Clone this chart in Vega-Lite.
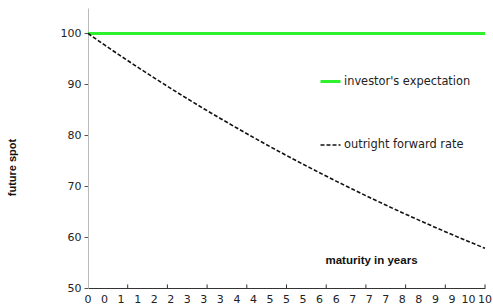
{
  "$schema": "https://vega.github.io/schema/vega-lite/v6.json",
  "width": 397,
  "height": 280,
  "autosize": {"type": "none"},
  "padding": {"left": 88, "top": 8, "right": 8, "bottom": 20},
  "background": "white",
  "config": {
    "view": {"stroke": null},
    "font": "Liberation Sans",
    "axis": {"labelFont": "DejaVu Sans", "titleFont": "Liberation Sans"},
    "legend": {"labelFont": "DejaVu Sans"}
  },
  "layer": [
    {
      "data": {
        "values": [
          {"maturity": 0, "value": 100, "series": "investor's expectation"},
          {"maturity": 0.4167, "value": 100, "series": "investor's expectation"},
          {"maturity": 0.8333, "value": 100, "series": "investor's expectation"},
          {"maturity": 1.25, "value": 100, "series": "investor's expectation"},
          {"maturity": 1.6667, "value": 100, "series": "investor's expectation"},
          {"maturity": 2.0833, "value": 100, "series": "investor's expectation"},
          {"maturity": 2.5, "value": 100, "series": "investor's expectation"},
          {"maturity": 2.9167, "value": 100, "series": "investor's expectation"},
          {"maturity": 3.3333, "value": 100, "series": "investor's expectation"},
          {"maturity": 3.75, "value": 100, "series": "investor's expectation"},
          {"maturity": 4.1667, "value": 100, "series": "investor's expectation"},
          {"maturity": 4.5833, "value": 100, "series": "investor's expectation"},
          {"maturity": 5, "value": 100, "series": "investor's expectation"},
          {"maturity": 5.4167, "value": 100, "series": "investor's expectation"},
          {"maturity": 5.8333, "value": 100, "series": "investor's expectation"},
          {"maturity": 6.25, "value": 100, "series": "investor's expectation"},
          {"maturity": 6.6667, "value": 100, "series": "investor's expectation"},
          {"maturity": 7.0833, "value": 100, "series": "investor's expectation"},
          {"maturity": 7.5, "value": 100, "series": "investor's expectation"},
          {"maturity": 7.9167, "value": 100, "series": "investor's expectation"},
          {"maturity": 8.3333, "value": 100, "series": "investor's expectation"},
          {"maturity": 8.75, "value": 100, "series": "investor's expectation"},
          {"maturity": 9.1667, "value": 100, "series": "investor's expectation"},
          {"maturity": 9.5833, "value": 100, "series": "investor's expectation"},
          {"maturity": 10, "value": 100, "series": "investor's expectation"},
          {"maturity": 0, "value": 100, "series": "outright forward rate"},
          {"maturity": 0.4167, "value": 97.74, "series": "outright forward rate"},
          {"maturity": 0.8333, "value": 95.53, "series": "outright forward rate"},
          {"maturity": 1.25, "value": 93.38, "series": "outright forward rate"},
          {"maturity": 1.6667, "value": 91.27, "series": "outright forward rate"},
          {"maturity": 2.0833, "value": 89.21, "series": "outright forward rate"},
          {"maturity": 2.5, "value": 87.19, "series": "outright forward rate"},
          {"maturity": 2.9167, "value": 85.22, "series": "outright forward rate"},
          {"maturity": 3.3333, "value": 83.3, "series": "outright forward rate"},
          {"maturity": 3.75, "value": 81.42, "series": "outright forward rate"},
          {"maturity": 4.1667, "value": 79.58, "series": "outright forward rate"},
          {"maturity": 4.5833, "value": 77.78, "series": "outright forward rate"},
          {"maturity": 5, "value": 76.03, "series": "outright forward rate"},
          {"maturity": 5.4167, "value": 74.31, "series": "outright forward rate"},
          {"maturity": 5.8333, "value": 72.63, "series": "outright forward rate"},
          {"maturity": 6.25, "value": 70.99, "series": "outright forward rate"},
          {"maturity": 6.6667, "value": 69.39, "series": "outright forward rate"},
          {"maturity": 7.0833, "value": 67.82, "series": "outright forward rate"},
          {"maturity": 7.5, "value": 66.29, "series": "outright forward rate"},
          {"maturity": 7.9167, "value": 64.79, "series": "outright forward rate"},
          {"maturity": 8.3333, "value": 63.33, "series": "outright forward rate"},
          {"maturity": 8.75, "value": 61.9, "series": "outright forward rate"},
          {"maturity": 9.1667, "value": 60.5, "series": "outright forward rate"},
          {"maturity": 9.5833, "value": 59.13, "series": "outright forward rate"},
          {"maturity": 10, "value": 57.8, "series": "outright forward rate"}
        ]
      },
      "mark": {"type": "line", "clip": false},
      "encoding": {
        "x": {
          "field": "maturity",
          "type": "quantitative",
          "scale": {"domain": [0, 10], "nice": false, "zero": false},
          "axis": {
            "title": "maturity in years",
            "titleFontWeight": "bold",
            "titleFontSize": 11.5,
            "titleColor": "#111",
            "titleX": 283,
            "titleY": -28,
            "titleBaseline": "middle",
            "titleAlign": "center",
            "labels": false,
            "ticks": false,
            "grid": false,
            "domainColor": "#333",
            "domainWidth": 1
          }
        },
        "y": {
          "field": "value",
          "type": "quantitative",
          "scale": {"domain": [50, 105], "nice": false, "zero": false},
          "axis": {
            "title": "future spot",
            "titleFontWeight": "bold",
            "titleFontSize": 11,
            "titleColor": "#111",
            "titleX": -71,
            "titleY": 159,
            "titleAngle": -90,
            "titleBaseline": "bottom",
            "titleAlign": "center",
            "values": [50, 60, 70, 80, 90, 100],
            "tickSize": 4,
            "tickColor": "#555",
            "labelPadding": 3,
            "labelFontSize": 11,
            "labelColor": "#222",
            "grid": false,
            "domainColor": "#bbbbbb",
            "domainWidth": 1
          }
        },
        "color": {
          "field": "series",
          "type": "nominal",
          "scale": {"domain": ["investor's expectation", "outright forward rate"], "range": ["#2ef22e", "#111111"]},
          "legend": {
            "orient": "none",
            "legendX": 231,
            "legendY": 62,
            "title": null,
            "symbolType": "stroke",
            "symbolSize": 400,
            "symbolStrokeWidth": 2,
            "labelFontSize": 11.4,
            "labelColor": "#222",
            "labelOffset": 2,
            "rowPadding": 46,
            "padding": 0
          }
        },
        "strokeDash": {
          "field": "series",
          "type": "nominal",
          "scale": {"domain": ["investor's expectation", "outright forward rate"], "range": [[1, 0], [4, 2]]},
          "legend": {
            "orient": "none",
            "legendX": 231,
            "legendY": 62,
            "title": null,
            "symbolType": "stroke",
            "symbolSize": 400,
            "symbolStrokeWidth": 2,
            "labelFontSize": 11.4,
            "labelColor": "#222",
            "labelOffset": 2,
            "rowPadding": 46,
            "padding": 0
          }
        },
        "strokeWidth": {
          "field": "series",
          "type": "nominal",
          "scale": {"domain": ["investor's expectation", "outright forward rate"], "range": [3, 1.6]},
          "legend": null
        }
      }
    },
    {
      "data": {"values": [{"year": 1}, {"year": 2}, {"year": 3}, {"year": 4}, {"year": 5}, {"year": 6}, {"year": 7}, {"year": 8}, {"year": 9}, {"year": 10}]},
      "mark": {"type": "rule", "color": "#333", "strokeWidth": 1, "clip": false},
      "encoding": {
        "x": {"field": "year", "type": "quantitative"},
        "y": {"datum": 50},
        "y2": {"datum": 50.7}
      }
    },
    {
      "data": {
        "values": [
          {"maturity": 0, "label": "0"},
          {"maturity": 0.4167, "label": "0"},
          {"maturity": 0.8333, "label": "1"},
          {"maturity": 1.25, "label": "1"},
          {"maturity": 1.6667, "label": "2"},
          {"maturity": 2.0833, "label": "2"},
          {"maturity": 2.5, "label": "3"},
          {"maturity": 2.9167, "label": "3"},
          {"maturity": 3.3333, "label": "3"},
          {"maturity": 3.75, "label": "4"},
          {"maturity": 4.1667, "label": "4"},
          {"maturity": 4.5833, "label": "5"},
          {"maturity": 5, "label": "5"},
          {"maturity": 5.4167, "label": "5"},
          {"maturity": 5.8333, "label": "6"},
          {"maturity": 6.25, "label": "6"},
          {"maturity": 6.6667, "label": "7"},
          {"maturity": 7.0833, "label": "7"},
          {"maturity": 7.5, "label": "7"},
          {"maturity": 7.9167, "label": "8"},
          {"maturity": 8.3333, "label": "8"},
          {"maturity": 8.75, "label": "9"},
          {"maturity": 9.1667, "label": "9"},
          {"maturity": 9.5833, "label": "10"},
          {"maturity": 10, "label": "10"}
        ]
      },
      "mark": {"type": "text", "baseline": "top", "align": "center", "dy": 6, "fontSize": 11, "font": "DejaVu Sans", "color": "#222", "clip": false},
      "encoding": {
        "x": {"field": "maturity", "type": "quantitative"},
        "y": {"datum": 50},
        "text": {"field": "label"}
      }
    }
  ]
}
